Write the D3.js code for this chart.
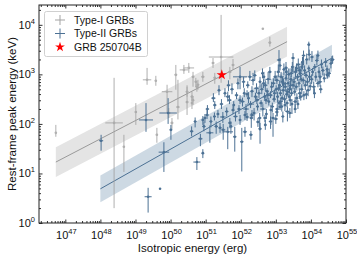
<!DOCTYPE html>
<html>
<head>
<meta charset="utf-8">
<script src="https://cdn.jsdelivr.net/npm/d3@7"></script>
<style>
body { margin: 0; background: #fff; }
text { font-family: "Liberation Sans", Arial, sans-serif; }
</style>
</head>
<body>
<div id="chart"></div>
<script>
// axis ranges (log10)
var xLogRange = [46.25, 55];
var yLogRange = [0, 4.4];
var xMajorExp = [47, 48, 49, 50, 51, 52, 53, 54, 55];
var yMajorExp = [0, 1, 2, 3, 4];

// fitted correlations: log10 Eiso endpoints, log10 Ep endpoints, band half width (dex)
var type1FitLogE = [46.73, 53.32];
var type1FitLogEp = [1.23, 3.66];
var type1Scatter = 0.3;
var type2FitLogE = [48.0, 54.6];
var type2FitLogEp = [0.69, 3.33];
var type2Scatter = 0.27;

// GRB 250704B
var grbLogE = 51.46;
var grbLogEp = 2.99;

// [log Eiso, log Ep, dlogE, dlogEp down, dlogEp up]
var type1Points = [
  [46.73, 1.82, 0, 0.08, 0.16],
  [48.39, 2.02, 0.25, 1.72, 0.91],
  [48.67, 1.54, 0.03, 0.51, 0.24],
  [49.01, 2.24, 0.03, 0.26, 0.18],
  [49.33, 2.89, 0.12, 0.10, 0.24],
  [49.58, 2.87, 0.03, 0.10, 0.10],
  [49.61, 1.78, 0.03, 0.16, 0.14],
  [49.90, 2.65, 0.15, 0.43, 0.14],
  [49.95, 2.22, 0.05, 0.10, 0.10],
  [50.04, 2.02, 0.04, 0.12, 0.10],
  [50.15, 2.99, 0.04, 0.30, 0.20],
  [50.21, 2.34, 0.05, 0.25, 0.55],
  [50.52, 3.13, 0.15, 0.10, 0.10],
  [50.64, 2.95, 0.04, 0.20, 0.10],
  [50.47, 2.44, 0.04, 0.26, 0.34],
  [50.61, 2.42, 0.03, 0.12, 0.10],
  [50.75, 2.75, 0.05, 0.10, 0.12],
  [50.38, 3.09, 0.12, 0.08, 0.10],
  [50.72, 2.85, 0.03, 0.10, 0.08],
  [50.78, 2.79, 0.04, 0.10, 0.10],
  [50.61, 2.55, 0.04, 0.08, 0.10],
  [50.64, 2.48, 0.03, 0.10, 0.08],
  [50.92, 2.95, 0.05, 0.10, 0.10],
  [51.44, 3.35, 0.35, 0.52, 0.85],
  [51.21, 3.23, 0.04, 0.10, 0.10],
  [51.26, 2.93, 0.04, 0.12, 0.10],
  [51.69, 3.05, 0.05, 0.15, 0.10],
  [51.78, 3.19, 0.04, 0.10, 0.12],
  [52.63, 3.92, 0, 0, 0],
  [52.83, 3.64, 0.04, 0.08, 0.12],
  [50.47, 2.65, 0.04, 0.10, 0.10]
];

var type2Points = [
  [48.02, 1.66, 0.06, 0.20, 0.12],
  [49.30, 2.08, 0.20, 0.24, 0.34],
  [49.93, 2.22, 0.25, 0.22, 0.30],
  [50.01, 1.88, 0.04, 0.20, 0.10],
  [49.81, 1.43, 0.15, 0.40, 0.20],
  [50.75, 1.23, 0.10, 0.16, 0.10],
  [49.36, 0.53, 0.10, 0.32, 0.18],
  [49.70, 0.69, 0, 0, 0],
  [50.92, 1.41, 0.04, 0.10, 0.08],
  [50.98, 2.12, 0.04, 0.10, 0.08],
  [51.12, 1.82, 0.10, 0.20, 0.15],
  [51.26, 2.38, 0.05, 0.08, 0.08],
  [51.41, 1.92, 0.05, 0.10, 0.10],
  [51.49, 2.14, 0.08, 0.12, 0.10],
  [51.63, 1.84, 0.15, 0.35, 0.10],
  [51.69, 2.02, 0.05, 0.10, 0.10],
  [51.83, 1.74, 0.05, 0.30, 0.20],
  [52.03, 1.64, 0.05, 0.60, 0.28],
  [52.12, 1.84, 0.06, 0.10, 0.10],
  [52.29, 1.78, 0.05, 0.10, 0.08],
  [51.98, 2.08, 0.04, 0.10, 0.10],
  [52.18, 2.14, 0.05, 0.08, 0.08],
  [52.32, 2.18, 0.06, 0.08, 0.10],
  [52.49, 2.04, 0.05, 0.10, 0.08],
  [52.92, 2.12, 0.05, 0.38, 0.10],
  [52.69, 2.12, 0.05, 0.08, 0.06],
  [53.03, 2.24, 0.05, 0.08, 0.08],
  [53.12, 2.34, 0.06, 0.06, 0.08],
  [53.32, 2.42, 0.05, 0.08, 0.06],
  [53.94, 3.60, 0.04, 0.18, 0.06],
  [54.60, 3.29, 0.05, 0.08, 0.08],
  [54.46, 2.99, 0.04, 0.08, 0.10],
  [54.26, 2.85, 0.06, 0.10, 0.08],
  [53.09, 3.29, 0.06, 0.25, 0.20],
  [53.29, 3.13, 0.05, 0.10, 0.12],
  [53.49, 3.33, 0.05, 0.30, 0.10],
  [53.74, 3.15, 0.06, 0.10, 0.10],
  [51.98, 2.95, 0.20, 0.25, 0.20],
  [51.63, 2.55, 0.05, 0.10, 0.10],
  [51.78, 2.28, 0.05, 0.08, 0.08],
  [51.04, 2.18, 0.05, 0.08, 0.10],
  [50.92, 2.08, 0.04, 0.10, 0.08],
  [52.05, 2.45, 0.06, 0.10, 0.08],
  [52.10, 2.62, 0.04, 0.08, 0.10],
  [52.15, 2.30, 0.08, 0.12, 0.10],
  [52.20, 2.78, 0.05, 0.06, 0.08],
  [52.22, 2.52, 0.04, 0.10, 0.12],
  [52.28, 2.40, 0.10, 0.08, 0.06],
  [52.32, 2.66, 0.05, 0.12, 0.10],
  [52.35, 2.88, 0.06, 0.10, 0.15],
  [52.38, 2.22, 0.04, 0.15, 0.10],
  [52.42, 2.55, 0.05, 0.06, 0.08],
  [52.45, 2.72, 0.08, 0.10, 0.10],
  [52.48, 2.35, 0.04, 0.08, 0.06],
  [52.08, 2.85, 0.05, 0.12, 0.10],
  [52.12, 2.18, 0.04, 0.10, 0.08],
  [52.26, 2.95, 0.06, 0.08, 0.12],
  [52.40, 2.98, 0.05, 0.10, 0.10],
  [52.18, 2.60, 0.04, 0.06, 0.08],
  [52.30, 2.12, 0.05, 0.20, 0.10],
  [52.46, 2.48, 0.06, 0.08, 0.08],
  [52.52, 2.62, 0.05, 0.10, 0.08],
  [52.55, 2.85, 0.04, 0.12, 0.10],
  [52.58, 2.42, 0.06, 0.08, 0.06],
  [52.60, 2.70, 0.05, 0.10, 0.12],
  [52.63, 2.30, 0.08, 0.15, 0.10],
  [52.66, 2.95, 0.04, 0.08, 0.10],
  [52.68, 2.55, 0.05, 0.06, 0.08],
  [52.70, 2.78, 0.06, 0.12, 0.10],
  [52.73, 2.20, 0.04, 0.10, 0.10],
  [52.75, 2.66, 0.05, 0.08, 0.06],
  [52.78, 2.90, 0.08, 0.10, 0.15],
  [52.80, 2.45, 0.04, 0.08, 0.08],
  [52.83, 3.05, 0.05, 0.15, 0.10],
  [52.85, 2.58, 0.06, 0.06, 0.08],
  [52.88, 2.75, 0.04, 0.10, 0.10],
  [52.90, 2.35, 0.05, 0.12, 0.08],
  [52.93, 2.82, 0.06, 0.08, 0.10],
  [52.96, 2.62, 0.04, 0.10, 0.06],
  [52.98, 2.95, 0.05, 0.08, 0.12],
  [52.54, 2.12, 0.05, 0.25, 0.10],
  [52.62, 3.02, 0.04, 0.10, 0.10],
  [52.72, 2.48, 0.06, 0.08, 0.08],
  [52.86, 2.28, 0.04, 0.30, 0.10],
  [52.95, 2.50, 0.05, 0.06, 0.08],
  [52.65, 2.82, 0.04, 0.10, 0.08],
  [52.77, 2.58, 0.05, 0.08, 0.10],
  [53.01, 2.70, 0.05, 0.10, 0.08],
  [53.03, 2.88, 0.06, 0.08, 0.10],
  [53.05, 2.55, 0.04, 0.12, 0.10],
  [53.07, 3.05, 0.05, 0.10, 0.15],
  [53.09, 2.42, 0.06, 0.08, 0.06],
  [53.11, 2.78, 0.04, 0.10, 0.10],
  [53.13, 2.62, 0.05, 0.06, 0.08],
  [53.15, 2.95, 0.08, 0.12, 0.10],
  [53.17, 2.35, 0.04, 0.10, 0.08],
  [53.19, 2.85, 0.05, 0.08, 0.10],
  [53.21, 2.68, 0.06, 0.10, 0.06],
  [53.23, 3.10, 0.04, 0.12, 0.12],
  [53.25, 2.50, 0.05, 0.08, 0.08],
  [53.27, 2.75, 0.06, 0.10, 0.10],
  [53.29, 2.92, 0.04, 0.06, 0.08],
  [53.31, 2.60, 0.05, 0.10, 0.10],
  [53.33, 2.25, 0.06, 0.20, 0.10],
  [53.35, 2.82, 0.04, 0.08, 0.08],
  [53.37, 3.00, 0.05, 0.10, 0.12],
  [53.39, 2.70, 0.06, 0.08, 0.06],
  [53.41, 2.48, 0.04, 0.12, 0.10],
  [53.43, 2.90, 0.05, 0.10, 0.08],
  [53.45, 2.62, 0.06, 0.06, 0.10],
  [53.47, 3.15, 0.04, 0.10, 0.10],
  [53.49, 2.78, 0.05, 0.08, 0.08],
  [53.04, 2.30, 0.06, 0.15, 0.10],
  [53.12, 3.18, 0.04, 0.10, 0.15],
  [53.18, 2.52, 0.05, 0.08, 0.06],
  [53.26, 2.38, 0.04, 0.12, 0.10],
  [53.34, 2.65, 0.06, 0.08, 0.08],
  [53.42, 2.78, 0.05, 0.10, 0.10],
  [53.46, 2.40, 0.04, 0.20, 0.10],
  [53.08, 2.72, 0.05, 0.06, 0.08],
  [53.22, 2.82, 0.06, 0.10, 0.10],
  [53.38, 2.55, 0.04, 0.08, 0.06],
  [53.14, 2.45, 0.05, 0.10, 0.08],
  [53.30, 3.05, 0.04, 0.12, 0.10],
  [53.44, 3.02, 0.06, 0.08, 0.10],
  [53.52, 2.85, 0.05, 0.10, 0.10],
  [53.54, 2.65, 0.04, 0.08, 0.08],
  [53.56, 3.05, 0.06, 0.12, 0.10],
  [53.58, 2.75, 0.05, 0.06, 0.08],
  [53.60, 2.52, 0.04, 0.10, 0.10],
  [53.62, 2.95, 0.05, 0.08, 0.06],
  [53.64, 3.20, 0.06, 0.10, 0.12],
  [53.66, 2.82, 0.04, 0.08, 0.08],
  [53.68, 2.62, 0.05, 0.12, 0.10],
  [53.70, 3.02, 0.06, 0.10, 0.10],
  [53.72, 2.90, 0.04, 0.06, 0.08],
  [53.74, 2.70, 0.05, 0.10, 0.10],
  [53.76, 3.25, 0.04, 0.15, 0.10],
  [53.78, 2.88, 0.06, 0.08, 0.06],
  [53.80, 2.58, 0.05, 0.10, 0.08],
  [53.82, 3.08, 0.04, 0.08, 0.10],
  [53.84, 2.78, 0.05, 0.10, 0.10],
  [53.86, 2.98, 0.06, 0.06, 0.08],
  [53.88, 3.30, 0.04, 0.10, 0.12],
  [53.90, 2.85, 0.05, 0.08, 0.08],
  [53.92, 2.68, 0.06, 0.12, 0.10],
  [53.94, 3.12, 0.04, 0.08, 0.06],
  [53.96, 2.95, 0.05, 0.10, 0.10],
  [53.98, 2.76, 0.04, 0.08, 0.08],
  [53.55, 2.45, 0.05, 0.15, 0.10],
  [53.63, 2.40, 0.04, 0.10, 0.08],
  [53.71, 2.55, 0.06, 0.08, 0.10],
  [53.79, 3.38, 0.05, 0.20, 0.10],
  [53.87, 2.60, 0.04, 0.10, 0.08],
  [53.95, 3.40, 0.05, 0.12, 0.10],
  [53.59, 3.12, 0.04, 0.08, 0.10],
  [53.67, 3.08, 0.06, 0.10, 0.08],
  [54.02, 2.90, 0.05, 0.10, 0.10],
  [54.05, 3.05, 0.04, 0.08, 0.08],
  [54.08, 2.75, 0.06, 0.12, 0.10],
  [54.11, 3.15, 0.05, 0.08, 0.06],
  [54.14, 2.95, 0.04, 0.10, 0.10],
  [54.17, 3.28, 0.05, 0.10, 0.12],
  [54.20, 2.82, 0.06, 0.08, 0.08],
  [54.23, 3.05, 0.04, 0.10, 0.10],
  [54.26, 2.95, 0.05, 0.06, 0.08],
  [54.30, 3.20, 0.04, 0.08, 0.10],
  [54.34, 3.08, 0.05, 0.10, 0.08],
  [54.38, 2.92, 0.04, 0.08, 0.10],
  [54.42, 3.25, 0.05, 0.10, 0.08],
  [54.46, 3.10, 0.04, 0.06, 0.08],
  [54.52, 3.02, 0.05, 0.08, 0.10],
  [54.57, 3.22, 0.04, 0.10, 0.08],
  [54.62, 3.30, 0.05, 0.08, 0.08],
  [54.10, 2.62, 0.04, 0.10, 0.10],
  [54.28, 2.70, 0.05, 0.08, 0.08],
  [54.48, 2.98, 0.04, 0.06, 0.08],
  [54.03, 3.35, 0.05, 0.10, 0.12],
  [54.20, 3.38, 0.04, 0.08, 0.10],
  [51.05, 2.30, 0.05, 0.10, 0.08],
  [51.15, 2.05, 0.04, 0.12, 0.10],
  [51.22, 2.52, 0.06, 0.08, 0.10],
  [51.30, 1.95, 0.05, 0.15, 0.10],
  [51.35, 2.20, 0.04, 0.08, 0.08],
  [51.45, 2.40, 0.05, 0.10, 0.10],
  [51.50, 1.88, 0.06, 0.20, 0.12],
  [51.55, 2.62, 0.04, 0.08, 0.10],
  [51.60, 2.25, 0.05, 0.10, 0.08],
  [51.68, 2.48, 0.06, 0.08, 0.10],
  [51.72, 1.95, 0.04, 0.15, 0.10],
  [51.75, 2.70, 0.05, 0.10, 0.12],
  [51.80, 2.38, 0.04, 0.08, 0.08],
  [51.85, 2.15, 0.06, 0.10, 0.10],
  [51.88, 2.58, 0.05, 0.08, 0.06],
  [51.92, 2.82, 0.04, 0.12, 0.10],
  [51.95, 2.30, 0.05, 0.10, 0.08],
  [51.98, 2.48, 0.06, 0.08, 0.10],
  [51.38, 2.68, 0.04, 0.10, 0.10],
  [51.65, 2.78, 0.05, 0.12, 0.10],
  [51.25, 2.15, 0.04, 0.08, 0.08],
  [50.60, 1.85, 0.05, 0.10, 0.10],
  [50.70, 2.05, 0.04, 0.12, 0.08],
  [50.85, 1.70, 0.06, 0.15, 0.10],
  [50.95, 1.95, 0.05, 0.10, 0.10],
  [52.55, 1.90, 0.05, 0.30, 0.12],
  [52.70, 1.98, 0.04, 0.10, 0.10],
  [52.85, 2.05, 0.05, 0.15, 0.10],
  [53.00, 2.10, 0.06, 0.10, 0.08],
  [53.20, 2.15, 0.04, 0.12, 0.10],
  [53.40, 2.22, 0.05, 0.10, 0.10],
  [53.55, 2.30, 0.04, 0.08, 0.10]
];

var w = 357;
var h = 260;
var plotLeft = 39, plotRight = 346, plotTop = 5, plotBottom = 223;

var grayColor = "#a3a3a3";
var blueColor = "#4c7194";

function p10(v) { return Math.pow(10, v); }

var xScale = d3.scaleLog()
    .domain([p10(xLogRange[0]), p10(xLogRange[1])])
    .range([plotLeft, plotRight]);

var yScale = d3.scaleLog()
    .domain([p10(yLogRange[0]), p10(yLogRange[1])])
    .range([plotBottom, plotTop]);

var svg = d3.select("#chart")
    .append("svg")
    .attr("width", w)
    .attr("height", h);

svg.append("defs").append("clipPath")
    .attr("id", "plot-clip")
    .append("rect")
    .attr("x", plotLeft).attr("y", plotTop)
    .attr("width", plotRight - plotLeft).attr("height", plotBottom - plotTop);

var plot = svg.append("g").attr("clip-path", "url(#plot-clip)");

//Scatter bands and fit lines
function drawFit(logE, logEp, halfWidth, bandColor, lineColor) {
    var pts = logE.map(function (d, i) { return [d, logEp[i]]; });
    var band = d3.area()
        .x(function (d) { return xScale(p10(d[0])); })
        .y0(function (d) { return yScale(p10(d[1] - halfWidth)); })
        .y1(function (d) { return yScale(p10(d[1] + halfWidth)); });
    plot.append("path")
        .datum(pts)
        .attr("d", band)
        .attr("fill", bandColor);
    var line = d3.line()
        .x(function (d) { return xScale(p10(d[0])); })
        .y(function (d) { return yScale(p10(d[1])); });
    plot.append("path")
        .datum(pts)
        .attr("d", line)
        .attr("fill", "none")
        .attr("stroke", lineColor)
        .attr("stroke-width", 1);
}

drawFit(type1FitLogE, type1FitLogEp, type1Scatter, "#e4e4e4", "#9a9a9a");
drawFit(type2FitLogE, type2FitLogEp, type2Scatter, "#cdd9e3", "#4c7194");

//Error bars and points
function drawPoints(data, color, opacity) {
    var g = plot.append("g").attr("stroke", color).attr("stroke-width", 1).attr("opacity", opacity);
    g.selectAll("line.v")
        .data(data)
        .enter()
        .append("line")
        .attr("class", "v")
        .attr("x1", function (d) { return xScale(p10(d[0])); })
        .attr("x2", function (d) { return xScale(p10(d[0])); })
        .attr("y1", function (d) { return yScale(p10(d[1] - d[3])); })
        .attr("y2", function (d) { return yScale(p10(d[1] + d[4])); });
    g.selectAll("line.hz")
        .data(data)
        .enter()
        .append("line")
        .attr("class", "hz")
        .attr("x1", function (d) { return xScale(p10(d[0] - d[2])); })
        .attr("x2", function (d) { return xScale(p10(d[0] + d[2])); })
        .attr("y1", function (d) { return yScale(p10(d[1])); })
        .attr("y2", function (d) { return yScale(p10(d[1])); });
    g.selectAll("circle")
        .data(data)
        .enter()
        .append("circle")
        .attr("cx", function (d) { return xScale(p10(d[0])); })
        .attr("cy", function (d) { return yScale(p10(d[1])); })
        .attr("r", 1.3)
        .attr("stroke", "none")
        .attr("fill", color);
}

drawPoints(type1Points, grayColor, 0.85);
drawPoints(type2Points, blueColor, 1);

plot.append("path")
    .attr("d", d3.symbol().type(d3.symbolStar).size(34)())
    .attr("transform", "translate(" + xScale(p10(grbLogE)) + "," + yScale(p10(grbLogEp)) + ")")
    .attr("fill", "red");

//Ticks (inward, on all four sides)
function minorTicks(range) {
    var out = [];
    for (var e = Math.floor(range[0]); e < Math.ceil(range[1]); e++) {
        for (var m = 2; m <= 9; m++) {
            var v = Math.log10(m) + e;
            if (v > range[0] && v < range[1]) out.push(p10(v));
        }
    }
    return out;
}
var xMajor = xMajorExp.map(p10);
var yMajor = yMajorExp.map(p10);
var xMinor = minorTicks(xLogRange);
var yMinor = minorTicks(yLogRange);

function addAxis(axis, tx, ty) {
    var g = svg.append("g")
        .attr("transform", "translate(" + tx + "," + ty + ")")
        .call(axis);
    g.select(".domain").remove();
    g.selectAll("line").attr("stroke", "#333");
    g.selectAll("text").remove();
}
[[xMajor, 3.5], [xMinor, 2]].forEach(function (t) {
    addAxis(d3.axisBottom(xScale).tickValues(t[0]).tickSize(-t[1]), 0, plotBottom);
    addAxis(d3.axisTop(xScale).tickValues(t[0]).tickSize(-t[1]), 0, plotTop);
});
[[yMajor, 3.5], [yMinor, 2]].forEach(function (t) {
    addAxis(d3.axisLeft(yScale).tickValues(t[0]).tickSize(-t[1]), plotLeft, 0);
    addAxis(d3.axisRight(yScale).tickValues(t[0]).tickSize(-t[1]), plotRight, 0);
});

svg.append("rect")
    .attr("x", plotLeft).attr("y", plotTop)
    .attr("width", plotRight - plotLeft).attr("height", plotBottom - plotTop)
    .attr("fill", "none")
    .attr("stroke", "#222")
    .attr("stroke-width", 1);

//Tick labels as 10^n
function powerLabel(sel, exp) {
    sel.append("tspan").text("10");
    sel.append("tspan").attr("dy", -5).attr("font-size", "7.5px").text(exp);
}
xMajorExp.forEach(function (e) {
    svg.append("text")
        .attr("x", xScale(p10(e)) + 1)
        .attr("y", 238.5)
        .attr("text-anchor", "middle")
        .attr("font-size", "11px")
        .attr("fill", "#111")
        .call(powerLabel, e);
});
yMajorExp.forEach(function (e) {
    svg.append("text")
        .attr("x", 35)
        .attr("y", yScale(p10(e)) + 4)
        .attr("text-anchor", "end")
        .attr("font-size", "11px")
        .attr("fill", "#111")
        .call(powerLabel, e);
});

//Axis titles
svg.append("text")
    .attr("x", (plotLeft + plotRight) / 2)
    .attr("y", 252)
    .attr("text-anchor", "middle")
    .attr("font-size", "11.5px")
    .attr("fill", "#111")
    .text("Isotropic energy (erg)");

svg.append("text")
    .attr("transform", "translate(16," + ((plotTop + plotBottom) / 2) + ") rotate(-90)")
    .attr("text-anchor", "middle")
    .attr("font-size", "11.5px")
    .attr("fill", "#111")
    .text("Rest-frame peak energy (keV)");

//Legend
var legend = svg.append("g");
legend.append("rect")
    .attr("x", 44.5).attr("y", 11.5)
    .attr("width", 103).attr("height", 45)
    .attr("rx", 2)
    .attr("fill", "white")
    .attr("fill-opacity", 0.85)
    .attr("stroke", "#d0d0d0");

var legendItems = [
    { label: "Type-I GRBs", color: grayColor, kind: "cross" },
    { label: "Type-II GRBs", color: blueColor, kind: "cross" },
    { label: "GRB 250704B", color: "red", kind: "star" }
];
legendItems.forEach(function (d, i) {
    var cy = 20 + i * 13.5;
    if (d.kind === "cross") {
        legend.append("line").attr("x1", 55).attr("x2", 65).attr("y1", cy).attr("y2", cy)
            .attr("stroke", d.color).attr("stroke-width", 1);
        legend.append("line").attr("x1", 60).attr("x2", 60).attr("y1", cy - 5).attr("y2", cy + 5)
            .attr("stroke", d.color).attr("stroke-width", 1);
    } else {
        legend.append("path")
            .attr("d", d3.symbol().type(d3.symbolStar).size(30)())
            .attr("transform", "translate(60," + cy + ")")
            .attr("fill", d.color);
    }
    legend.append("text")
        .attr("x", 74)
        .attr("y", cy + 3.8)
        .attr("font-size", "10.5px")
        .attr("fill", "#111")
        .text(d.label);
});
</script>
</body>
</html>
